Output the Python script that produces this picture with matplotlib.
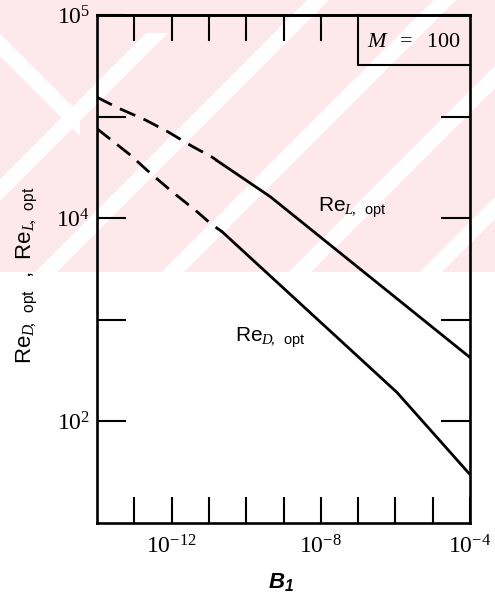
import matplotlib
matplotlib.use("Agg")
import matplotlib.pyplot as plt
from matplotlib.patches import Polygon, Rectangle
from matplotlib.ticker import FixedLocator, FuncFormatter, NullLocator

plt.rcParams["font.family"] = ["Liberation Sans", "DejaVu Sans"]
plt.rcParams["mathtext.fontset"] = "custom"
plt.rcParams["mathtext.rm"] = "Liberation Serif"
plt.rcParams["mathtext.it"] = "Liberation Serif:italic"
plt.rcParams["mathtext.bf"] = "Liberation Sans:bold:italic"
plt.rcParams["mathtext.sf"] = "Liberation Sans"
plt.rcParams["lines.scale_dashes"] = False

# ---- data -------------------------------------------------------------
B1_L_dashed = [1.0e-14, 3.6e-14, 1.95e-13, 7.9e-13, 3.7e-12, 1.29e-11, 1.66e-11]
Re_L_dashed = [1.55e5, 1.22e5, 9.3e4, 7.1e4, 5.06e4, 3.94e4, 3.68e4]
B1_L_solid = [1.66e-11, 4.4e-10, 1.0e-4]
Re_L_solid = [3.68e4, 1.63e4, 4.26e2]

B1_D_dashed = [1.0e-14, 3.0e-14, 7.6e-14, 2.95e-13, 1.1e-12, 4.8e-12, 1.2e-11, 2.24e-11]
Re_D_dashed = [7.6e4, 5.53e4, 4.22e4, 2.69e4, 1.79e4, 1.16e4, 8.65e3, 7.38e3]
B1_D_solid = [2.24e-11, 1.1e-6, 1.0e-4]
Re_D_solid = [7.38e3, 1.93e2, 30.0]

x_ticks = [1e-13, 1e-12, 1e-11, 1e-10, 1e-9, 1e-8, 1e-7, 1e-6, 1e-5, 1e-4]
x_labels = {1e-12: r"$10^{-12}$", 1e-8: r"$10^{-8}$", 1e-4: r"$10^{-4}$"}
x_top_ticks = [1e-13, 1e-12, 1e-11, 1e-10, 1e-9, 1e-8]
y_ticks = [1e2, 1e3, 1e4, 1e5, 1e6]
y_labels = [r"$10^2$", "", r"$10^4$", "", r"$10^5$"]

W, H = 495, 599
fig = plt.figure(figsize=(W / 100, H / 100), dpi=100, facecolor="white")


def px(pts):
    return [(x / W, 1 - y / H) for x, y in pts]


# ---- pale printed background -----------------------------------------
pink = "#fde8ec"
band_top = 272
clip = Rectangle((0, 1 - band_top / H), 1, band_top / H, transform=fig.transFigure)
fig.add_artist(Rectangle((0, 1 - band_top / H), 1, band_top / H,
                         transform=fig.transFigure, facecolor=pink,
                         edgecolor="none", zorder=-3))
stripes = []
for c in [318, 445, 572, 703]:
    stripes.append([(c - 11 + 10, -10), (c + 11 + 10, -10),
                    (c + 11 - 290, 290), (c - 11 - 290, 290)])
stripes.append([(168, 33), (146, 33), (-10, 189), (-10, 211)])
stripes.append([(-10, 24), (80, 114), (80, 136), (-10, 46)])
for s in stripes:
    p = Polygon(px(s), closed=True, transform=fig.transFigure,
                facecolor="white", edgecolor="none", zorder=-2)
    fig.add_artist(p)
    p.set_clip_path(clip)

# ---- axes --------------------------------------------------------------
ax = fig.add_axes([97 / W, 1 - 523 / H, (470 - 97) / W, (523 - 15) / H])
ax.patch.set_visible(False)
ax.set_xscale("log")
ax.set_yscale("log")
ax.set_xlim(1e-14, 1e-4)
ax.set_ylim(1e1, 1e6)
for sp in ax.spines.values():
    sp.set_linewidth(1.9)

dash = (0, (12.0, 6.5))
ax.plot(B1_L_dashed, Re_L_dashed, color="black", lw=2.0, linestyle=dash)
ax.plot(B1_L_solid, Re_L_solid, color="black", lw=2.0)
ax.plot(B1_D_dashed, Re_D_dashed, color="black", lw=2.0, linestyle=dash)
ax.plot(B1_D_solid, Re_D_solid, color="black", lw=2.0)

ax.xaxis.set_major_locator(FixedLocator(x_ticks))
ax.xaxis.set_major_formatter(FuncFormatter(
    lambda v, pos: next((t for k, t in x_labels.items() if abs(v / k - 1) < 1e-6), "")))
ax.xaxis.set_minor_locator(NullLocator())
ax.yaxis.set_major_locator(FixedLocator(y_ticks))
ax.yaxis.set_major_formatter(FuncFormatter(lambda v, pos: y_labels[pos]))
ax.yaxis.set_minor_locator(NullLocator())

ax.tick_params(axis="x", direction="in", bottom=True, top=False, length=19,
               width=1.5, pad=9, labelsize=17)
ax.tick_params(axis="y", direction="in", left=True, right=True, length=21,
               width=1.5, pad=5, labelsize=17)

sec = ax.secondary_xaxis("top")
sec.set_xticks(x_top_ticks)
sec.xaxis.set_minor_locator(NullLocator())
sec.tick_params(direction="in", length=19, width=1.5, labeltop=False,
                labelbottom=False)
sec.spines["top"].set_linewidth(1.9)

# parameter box in the upper right corner
ax.plot([1e-7, 1e-7, 1e-4], [1e6, 3.2e5, 3.2e5], color="black", lw=1.5,
        clip_on=False)
ax.text(3.16e-6, 5.5e5, r"$\mathit{M}\ \ =\ \ 100$", ha="center", va="center",
        fontsize=16)

# curve labels
ax.text(8.4e-9, 1.14e4, r"Re$_{\mathit{L}\!,\ \ \mathsf{opt}}$", ha="left",
        va="baseline", fontsize=15)
ax.text(5.0e-11, 600, r"Re$_{\mathit{D}\!,\ \ \mathsf{opt}}$", ha="left",
        va="baseline", fontsize=15)

# axis titles
fig.text(27 / W, 1 - 275 / H,
         r"Re$_{\mathit{D}\!,\ \ \mathsf{opt}}$  $\mathsf{,}$  Re$_{\mathit{L}\!,\ \ \mathsf{opt}}$",
         rotation=90, ha="center", va="center", fontsize=16)
fig.text(281 / W, 1 - 583 / H, r"$\mathbf{B_1}$", ha="center", va="center",
         fontsize=16)

fig.savefig("out.png", dpi=100, facecolor="white")
